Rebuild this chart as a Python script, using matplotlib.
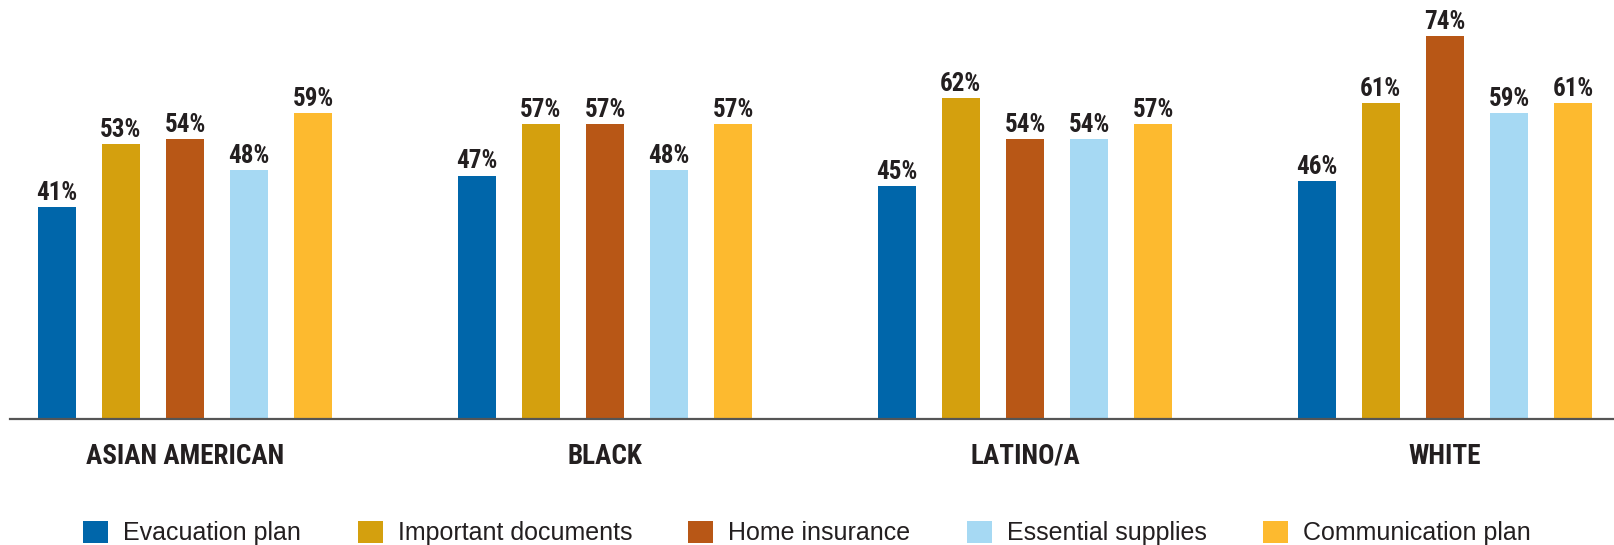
import matplotlib
matplotlib.use("Agg")
import matplotlib.pyplot as plt
from matplotlib.patches import Patch
from matplotlib import font_manager as fm
import numpy as np

categories = ["ASIAN AMERICAN", "BLACK", "LATINO/A", "WHITE"]
series_names = ["Evacuation plan", "Important documents", "Home insurance",
                "Essential supplies", "Communication plan"]
evacuation_plan = [41, 47, 45, 46]
important_documents = [53, 57, 62, 61]
home_insurance = [54, 57, 54, 74]
essential_supplies = [48, 48, 54, 59]
communication_plan = [59, 57, 57, 61]
series_values = [evacuation_plan, important_documents, home_insurance,
                 essential_supplies, communication_plan]
colors = ["#0066AA", "#D4A00E", "#B85716", "#A6D9F3", "#FDBA2F"]


def pick_condensed_bold():
    fl = fm.fontManager.ttflist
    def isbold(f):
        w = f.weight
        return (isinstance(w, int) and w >= 600) or (isinstance(w, str) and "bold" in w.lower())
    prefs = [
        ("narrow", lambda f: f.name == "Liberation Sans Narrow" and isbold(f)),
        ("roboto", lambda f: "Condensed" in f.name and isbold(f) and "Roboto" in f.name),
        ("dejavu", lambda f: f.name == "DejaVu Sans" and isbold(f)
                   and "condensed" in str(f.stretch).lower()
                   and "oblique" not in f.style.lower()),
        ("dejavu", lambda f: "Condensed" in f.fname and "Bold" in f.fname
                   and "Oblique" not in f.fname and "DejaVuSans" in f.fname),
    ]
    for kind, p in prefs:
        for f in fl:
            try:
                if p(f):
                    return fm.FontProperties(fname=f.fname), kind
            except Exception:
                pass
    return fm.FontProperties(family="DejaVu Sans", weight="bold"), "plain"


bold_fp, kind = pick_condensed_bold()
sizes = {"narrow": (17.5, 18), "roboto": (18, 19.5), "dejavu": (15, 15.5), "plain": (14, 14.5)}
vsize, csize = sizes[kind]

W, H = 1614, 545
fig = plt.figure(figsize=(W / 100, H / 100), dpi=100)

base_y = 419
left_px = 9.5
ax = fig.add_axes([left_px / W, (H - base_y) / H, 1 - left_px / W, base_y / H])

px_per_unit = 5.18
group_px = 420
center0 = 185
ax.set_ylim(0, base_y / px_per_unit)
ax.set_xlim((left_px - center0) / group_px, (W - center0) / group_px)

x = np.arange(len(categories))
step = 64.2 / group_px
width = 38 / group_px

for i, (vals, col) in enumerate(zip(series_values, colors)):
    xs = x + (i - 2) * step
    bars = ax.bar(xs, vals, width=width, color=col, edgecolor="none")
    for b, v in zip(bars, vals):
        fp = bold_fp.copy()
        fp.set_size(vsize)
        ax.annotate(f"{v}%", (b.get_x() + b.get_width() / 2, v),
                    xytext=(0, 1.5), textcoords="offset points",
                    ha="center", va="bottom", fontproperties=fp, color="#231F20")

for s in ["top", "right", "left"]:
    ax.spines[s].set_visible(False)
ax.spines["bottom"].set_color("#555555")
ax.spines["bottom"].set_linewidth(1.6)
ax.set_yticks([])
ax.set_xticks(x)
cfp = bold_fp.copy()
cfp.set_size(csize)
ax.set_xticklabels(categories, fontproperties=cfp, color="#231F20")
ax.tick_params(axis="x", length=0, pad=17)

handles = [Patch(facecolor=c, edgecolor="none") for c in colors]
fig.legend(handles, series_names, loc="center", bbox_to_anchor=(0.5, 1 - 533 / H),
           ncol=5, frameon=False, handlelength=1.0, handleheight=1.0,
           handletextpad=0.6, columnspacing=2.25,
           prop=dict(family=["Liberation Sans", "DejaVu Sans"], size=18),
           labelcolor="#231F20")

fig.savefig("out.png", dpi=100)
